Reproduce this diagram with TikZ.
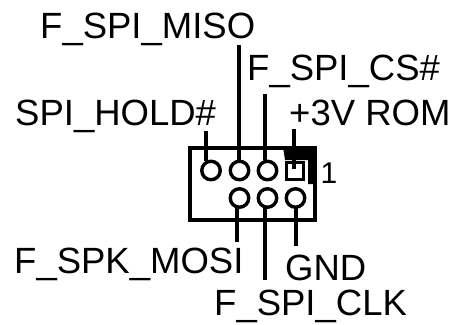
\documentclass[tikz,border=0pt]{standalone}
\usepackage{fontspec}
\setmainfont{Liberation Sans}
\begin{document}
\begin{tikzpicture}[x=1pt,y=-1pt,
  lbl/.style={inner sep=0pt,font=\fontsize{36.5}{37}\selectfont,anchor=base west},
  pin/.style={circle,draw=black,line width=3.4pt,fill=white,minimum size=18.5pt,inner sep=0pt},
  sqpin/.style={rectangle,draw=black,line width=3.4pt,fill=white,minimum size=17pt,inner sep=0pt},
  wire/.style={line width=3.6pt,black}]
\useasboundingbox (0,0) rectangle (454,324);
\node[lbl] (miso) at (40,38) {F\_SPI\_MISO};
\node[lbl] (cs) at (247,80) {F\_SPI\_CS\#};
\node[lbl] (hold) at (15,125) {SPI\_HOLD\#};
\node[lbl] (rom) at (289,125) {+3V ROM};
\node[lbl,font=\fontsize{30}{30}\selectfont] (one) at (320.5,183) {1};
\node[lbl] (mosi) at (14,273) {F\_SPK\_MOSI};
\node[lbl] (gnd) at (285,280) {GND};
\node[lbl] (clk) at (214,315) {F\_SPI\_CLK};
\draw[line width=3.5pt] (190,148) rectangle (315,220);
\fill (283,147) -- (316.5,147) -- (316.5,184) -- (308,184) -- (308,160) -- (285,160) -- cycle;
\node[pin] (p1) at (211,170.5) {};
\node[pin] (p2) at (239.5,170.5) {};
\node[pin] (p3) at (267.5,170.5) {};
\node[sqpin] (p4) at (295,171) {};
\node[pin] (p5) at (239.5,198) {};
\node[pin] (p6) at (267.5,198) {};
\node[pin] (p7) at (295.5,198) {};
\coordinate (w1) at (206,131);
\coordinate (w2) at (239,45);
\coordinate (w3) at (265,94);
\coordinate (w4) at (294,129);
\coordinate (w5) at (237,242);
\coordinate (w6) at (265,280);
\coordinate (w7) at (296,246);
\draw[wire] (w1) -- (206,161);
\draw[wire] (w2) -- (239,160);
\draw[wire] (w3) -- (265,160);
\draw[wire] (w4) -- (294,169);
\draw[wire] (237,208) -- (w5);
\draw[wire] (265,208) -- (w6);
\draw[wire] (296,208) -- (w7);
\end{tikzpicture}
\end{document}
